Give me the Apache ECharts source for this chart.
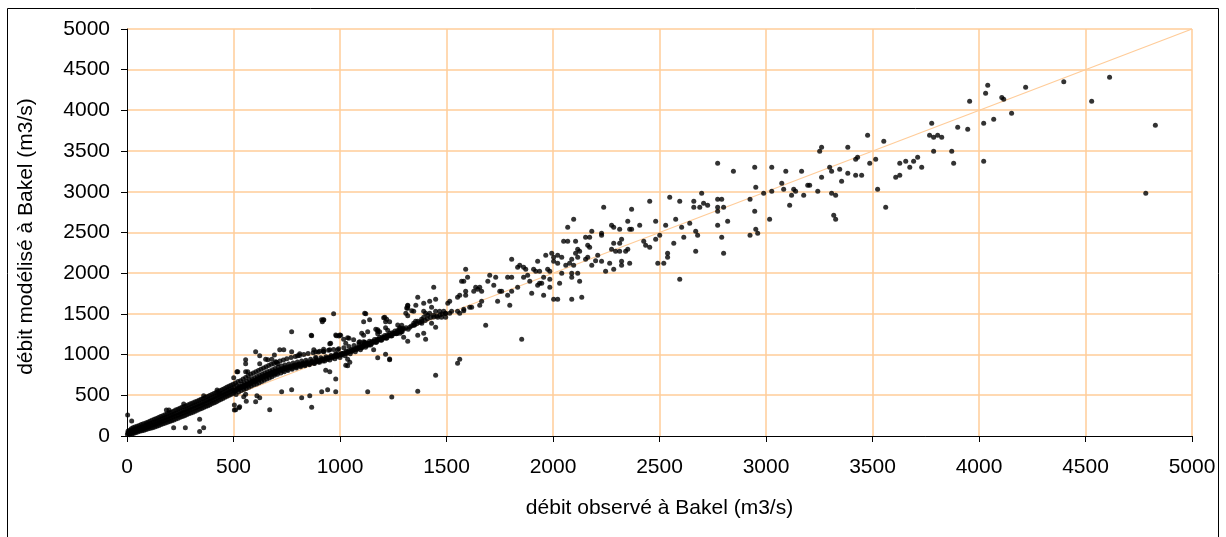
<!DOCTYPE html>
<html>
<head>
<meta charset="utf-8">
<script src="https://cdn.jsdelivr.net/npm/echarts@6/dist/echarts.min.js"></script>
<style>
html,body{margin:0;padding:0;background:#fff;}
#chart{width:1226px;height:537px;}
</style>
</head>
<body>
<div id="chart"></div>
<script>
var xTitle = 'débit observé à Bakel (m3/s)';
var yTitle = 'débit modélisé à Bakel (m3/s)';
var axisMin = 0, axisMax = 5000, axisStep = 500;
var tickValues = [0, 500, 1000, 1500, 2000, 2500, 3000, 3500, 4000, 4500, 5000];

// 1:1 reference line
var identityLine = [[0, 0], [5000, 5000]];

// dense band, low flows
var bandLow = [
[2,18],[4,40],[5,62],[8,28],[10,50],[12,15],[14,72],[15,35],[18,55],[20,88],[22,25],[24,64],[26,45],[28,100],[30,30],[32,78],[35,55],[37,110],[40,40],[42,85],[45,65],[47,120],[50,48],[52,95],[55,72],[57,130],[60,58],[62,105],[65,82],[67,140],[70,66],[72,112],[75,90],[77,150],[80,72],[83,125],[85,98],[88,160],[90,80],[92,135],[95,108],[97,170],[100,88],[102,145],[105,118],
[107,182],[110,95],[112,155],[115,128],[117,192],[120,102],[123,165],[125,138],[128,205],[130,112],[133,175],[135,148],[138,215],[140,120],[143,185],[145,158],[148,228],[150,130],[153,195],[155,168],[158,240],[160,140],[163,205],[165,178],[168,250],[170,150],[173,218],[175,190],[178,262],[180,160],[183,228],[185,200],[188,272],[190,168],[193,238],[195,210],[198,285],[200,178],[203,248],[205,222],[208,295],[210,188],[213,258],[215,232],[218,305],[220,198],[223,270],[225,242],[228,318],[230,208],[233,280],[235,252],[238,328],[240,218],[243,290],[245,262],[248,340],[250,230],
[253,300],[255,272],[258,352],[260,240],[263,312],[265,285],[268,362],[270,250],[273,322],[275,295],[278,372],[280,262],[283,335],[285,305],[288,385],[290,272],[293,345],[295,318],[298,395],[300,282],[303,355],[305,328],[308,405],[310,292],[313,368],[315,340],[318,418],[320,305],[323,378],[325,350],[328,428],[330,315],[333,390],[335,362],[338,440],[340,328],[343,400],[345,372],[348,452],[350,338],[353,412],[355,385],[358,462],[360,350],[363,425],[365,395],[368,475],[370,362],[373,435],[375,408],[378,486],[380,372],[383,448],[385,420],[388,498],[390,385],[393,460],[395,432],[398,510],[400,398],[403,472],[405,445],[408,522],[410,410],[413,485],[415,458],[418,535],[420,422],[423,498],[425,470],[428,548],[430,435],[433,510],[435,482],[438,560],[440,448],[443,522],[445,495],[448,572],[450,462],[453,535],[455,508],[458,585],[460,475],[463,548],[465,520],[468,598],[470,488],[473,560],[475,532],[478,610],[480,500],[483,572],[485,545],[488,622],[490,512],[493,585],[495,558],[498,635],[500,525]
];

// dense band, medium flows (edges)
var bandMid = [
[503,598],[506,560],[509,650],[512,510],[515,620],[518,580],[521,670],[524,540],[527,610],[530,590],[533,680],[536,560],[539,640],[542,605],[545,700],[548,570],[551,655],[554,620],[557,720],[560,585],[563,670],[566,635],[569,740],[572,600],[575,690],[578,650],[581,760],[584,615],[587,700],[590,668],[593,775],[596,630],[599,715],[602,680],[605,790],[608,640],[611,730],[614,700],[617,805],[620,655],[623,745],[626,712],[629,820],[632,670],[635,760],[638,728],[641,835],[644,685],[647,775],[650,742],[653,850],[656,700],[659,790],[662,758],[665,865],[668,712],[671,800],[674,772],[677,880],[680,728],[683,815],[686,785],[689,890],[692,745],[695,828],[698,800],
[702,905],[706,760],[710,845],[714,815],[718,920],[722,775],[726,860],[730,828],[734,935],[738,790],[742,872],[746,845],[750,950],[755,805],[760,885],[765,858],[770,965],[775,820],[780,898],[785,872],[790,978],[795,835],[800,910],[805,885],[810,990],[815,850],[820,922],[825,898],[830,1002],[835,862],[840,932],[845,908],[850,1012],[856,875],[862,942],[868,920],[874,1022],[880,890],[886,952],[892,932],[898,1032],[904,905],[910,962],[916,945],[922,1042],[928,920],[934,975],[940,958],[946,1052],[952,935],[958,988],[964,972],[970,1062],[976,950],[982,1000],[988,985],[994,1072],[1000,965],
[1006,1015],[1012,1000],[1018,1085],[1024,985],[1030,1040],[1036,1025],[1042,1098],[1048,1010],[1054,1062],[1060,1050],[1066,1112],[1072,1035],[1078,1085],[1084,1075],[1090,1128],[1096,1060],[1102,1108],[1108,1100],[1114,1145],[1120,1090],[1126,1135],[1132,1128],[1138,1165],[1144,1118],[1150,1160],[1156,1155],[1162,1185],[1168,1148],[1174,1188],[1180,1182],[1186,1210],[1192,1175],[1198,1215],[1204,1208],[1210,1235],[1216,1200],[1222,1240],[1228,1235],[1234,1262],[1240,1228],[1246,1268],[1252,1262],[1258,1290],[1264,1255],[1270,1295],[1276,1288],[1282,1318],[1288,1280],[1294,1322],[1300,1315],
[1310,1330],[1320,1310],[1335,1352],[1350,1365],[1360,1380],[1375,1395],[1385,1410],[1400,1420],[1410,1440],[1425,1455],[1440,1462],[1455,1475],[1470,1490],[1480,1500],[1495,1505]
];

// dense band, medium flows (core)
var bandCore = [
[505,548],[511,560],[516,570],[522,578],[528,590],[533,598],[539,605],[545,612],[550,598],[556,622],[561,632],[567,620],[573,645],[579,655],[584,645],[590,668],[596,678],[602,665],[607,690],[613,700],[619,688],[625,712],[631,722],[637,708],[643,735],[649,742],[655,730],[661,752],[667,760],[673,748],[679,772],[685,780],[691,768],[697,792],[703,798],[710,785],[717,808],[724,815],[731,802],[738,825],[745,830],[752,818],[759,840],[766,845],[773,832],[780,856],[787,862],[794,848],[801,870],[808,874],[815,862],[822,880],[829,886],[836,872],[843,892],[850,897],[857,885],[864,903],[871,908],[878,895],[885,915],[892,920],[899,908],[906,930],[913,935],[920,922],[927,945],[934,952],[941,940],[948,962],[955,970],[962,958],[969,980],[976,986],[983,974],[990,996],[997,1002],[1004,992],[1012,1012],[1020,1022],[1028,1012],[1036,1035],[1044,1045],[1052,1035],[1060,1058],[1068,1068],[1076,1060],[1084,1082],[1092,1092],[1100,1085],[1108,1110],[1116,1120],[1124,1110],[1132,1135],[1140,1142],[1148,1132],[1156,1155],[1164,1162],[1172,1155],[1180,1178],[1188,1188],[1196,1180],[1204,1205],[1212,1215],[1220,1205],[1228,1230],[1236,1240],[1244,1232],[1252,1255],[1260,1266],[1268,1258],[1276,1282],[1284,1292],[1292,1285]
];

// scattered points below 1000 m3/s
var scatterLow = [
[3,258],[22,184],[274,102],[341,55],[360,102],[341,205],[219,102],[504,319],[504,381],[526,348],[266,393],[185,319],[197,319],[423,565],[432,524],[360,495],
[970,1502],[917,1404],[922,1425],[773,1281],[867,1232],[983,1232],[952,1134],[717,1060],[736,1060],[604,1036],[773,1036],[557,937],[557,888],[623,986],[623,888],[661,937],[698,913],[708,888],[811,1011],[801,986],[877,1060],[886,1036],[924,1036],[952,1060],[989,1060],[980,1011],[520,790],[501,716],[557,790],[726,544],[773,569],[820,470],[858,495],[914,544],[942,569],[980,544],[623,470],[914,1429],[924,1429],[980,1241],[999,1241],[980,700],[933,807],[952,790],[995,1228],[867,353],[670,323],[610,495],[604,421],[529,360],[510,323],[548,483],[557,512],[560,426],[567,790],[516,790],[692,995],[698,770],[886,967],[865,1237],[956,1139],[651,942],[680,942],[905,1040],[923,1065],[1003,1237]
];

// scattered points 1000 - 2000 m3/s
var scatterMid = [
[1121,1502],[1111,1404],[1139,1429],[1205,1453],[1214,1404],[1233,1404],[1318,1601],[1318,1568],[1318,1478],[1271,1364],[1280,1330],[1290,1306],[1177,1306],[1186,1281],[1177,1257],[1214,1330],[1224,1298],[1130,1281],[1036,1208],[1064,1183],[1093,1158],[1111,1158],[1102,1085],[1158,1060],[1177,962],[1214,1003],[1233,937],[1130,544],[1243,479],[1036,864],[1046,905],[1042,1200],[1089,1151],[1117,1151],[1136,1118],[1233,946],[1210,1458],[1219,1434],[1116,1507],[1036,942],[1027,868],[1017,1188],[1027,1139],[1102,1262],[1111,1237],[1168,1311],[1177,1286],[1337,1540],[1355,1409],[1384,1384],[1346,1360],[1313,1572],
[1853,1188],[1684,1360],[1552,893],[1562,942],[1449,745],[1365,549],[1590,2048],[1599,1950],[1571,1900],[1581,1900],[1637,1827],[1647,1802],[1656,1827],[1665,1778],[1628,1778],[1590,1778],[1590,1729],[1562,1729],[1552,1704],[1515,1655],[1506,1630],[1665,1655],[1656,1606],[1618,1581],[1609,1581],[1581,1557],[1552,1532],[1562,1508],[1524,1532],[1515,1508],[1440,1827],[1365,1704],[1356,1606],[1393,1630],[1421,1655],[1449,1680],[1393,1532],[1402,1508],[1430,1581],[1449,1532],[1468,1532],[1487,1532],[1496,1508],[1318,1606],[1309,1508],[1346,1532],[1290,1360],[1282,1262],[1327,1335],[1346,1384],[1365,1409],[1383,1434],[1393,1458],[1412,1483],[1421,1508],[1440,1483],[1459,1458],[1477,1458],[1496,1458],[1430,1384],[1449,1335],[1393,1262],[1402,1188],[1365,1237],[1318,1163],[1299,1212],[1581,1540],
[1806,2171],[1834,2072],[1844,2097],[1862,2072],[1872,2048],[1909,2048],[1900,1753],[1891,1900],[1881,1974],[1862,1950],[1834,1827],[1806,1778],[1787,1729],[1797,1606],[1740,1655],[1750,1778],[1759,1778],[1722,1851],[1694,1900],[1703,1974],[1731,1950],[1787,1950],[1806,1950],
[1928,2146],[1919,2023],[1937,2023],[1937,1876],[1928,1851],[1947,1876],[1956,1950],[1966,2220],[1975,2048],[1985,2023],[1985,1925],[1985,1827],[1994,2244],[1956,1729]
];

// scattered points above 2000 m3/s
var scatterHigh = [
[2003,1680],[2022,1680],[2031,1876],[2022,2220],[2003,2195],[2041,2195],[2003,2146],[2022,2122],[2069,2564],[2097,2662],[2050,2392],[2069,2392],[2060,2097],[2041,1999],[2088,1999],[2088,1950],[2116,1999],[2125,1900],[2135,1704],[2088,1680],
[2106,2392],[2116,2293],[2106,2244],[2116,2195],[2088,2171],[2078,2122],[2097,2097],[2153,2171],[2163,2195],[2182,2097],[2200,2154],[2125,2269],[2163,2343],[2172,2318],
[2210,2220],[2228,2146],[2266,2122],[2247,2023],[2285,2048],[2322,2146],[2322,2097],[2360,2122],[2322,2417],[2313,2367],[2285,2367],[2275,2293],[2294,2269],[2313,2269],[2351,2293],[2341,2269],
[2238,2810],[2228,2490],[2228,2466],[2182,2515],[2172,2441],[2153,2441],[2275,2589],[2285,2564],[2313,2539],[2407,2589],[2369,2785],[2351,2638],[2360,2539],[2369,2539],
[2454,2883],[2576,2662],[2567,2367],[2529,2589],[2501,2466],[2482,2638],[2482,2417],[2454,2318],[2435,2343],[2426,2392],[2538,2244],[2538,2195],[2492,2122],[2520,2122],[2595,1925],
[2698,2982],[2661,2883],[2661,2810],[2689,2810],[2707,2859],[2726,2834],[2773,2908],[2792,2908],[2773,2810],[2773,2760],[2801,2810],[2820,2638],[2773,2589],[2792,2441],[2801,2244],[2670,2515],[2679,2466],[2670,2269],[2642,2613],[2614,2441],[2604,2564],[2595,2883],[2548,2932],[2773,3350],[2847,3252],
[2925,2908],[2925,2466],[2947,3301],[2952,3055],[2947,2760],[2952,2539],[2961,2490],[2989,2982],[3027,3301],[3027,3006],[3017,2662],[3074,3105],[3083,3031],[3093,3252],[3111,2834],[3120,2957],[3130,3031],[3139,3006],[3167,3252],[3177,2957],[3196,3080],[3205,3080],[3243,3006],
[3261,3547],[3252,3498],[3261,3178],[3308,2982],[3327,2957],[3318,2711],[3327,2662],[3308,3252],[3299,3301],[3346,3276],[3355,3129],[3384,3227],[3384,3547],[3421,3399],[3430,3424],[3421,3203],[3449,3203],[3477,3694],[3515,3399],[3487,3350],[3524,3031],[3562,2810],[3553,3620],
[3609,3178],[3628,3203],[3628,3350],[3656,3375],[3675,3301],[3693,3375],[3712,3424],[3731,3301],[3768,3694],[3787,3670],[3806,3694],[3825,3670],[3778,3842],[3787,3498],[3872,3498],[3881,3350],[3900,3792],[3947,3768],[3956,4112],
[4022,3842],[4022,3375],[4069,3891],[4153,3964],[4031,4210],[4041,4308],[4107,4160],[4116,4137],[4219,4283],[4398,4353],[4529,4112],[4613,4407],[4828,3817],[4783,2982]
];

var allPoints = bandLow.concat(bandMid, bandCore, scatterLow, scatterMid, scatterHigh);

var FONT = '"Liberation Sans", Arial, sans-serif';
var GRID = '#FFCC99';
function plain(v) { return String(v); }

var chart = echarts.init(document.getElementById('chart'), null, {renderer: 'canvas'});
chart.setOption({
  backgroundColor: '#ffffff',
  animation: false,
  textStyle: {fontFamily: FONT},
  grid: {left: 127, right: 34, top: 29, bottom: 101, containLabel: false},
  xAxis: {
    type: 'value', min: axisMin, max: axisMax, interval: axisStep,
    name: xTitle, nameLocation: 'middle', nameGap: 62,
    nameTextStyle: {fontSize: 21, color: '#000', fontFamily: FONT},
    axisLine: {show: true, onZero: false, lineStyle: {color: '#000', width: 1}},
    axisTick: {show: true, inside: false, length: 6, lineStyle: {color: '#000'}},
    axisLabel: {fontSize: 21, color: '#000', margin: 21, fontFamily: FONT, formatter: plain},
    splitLine: {show: false}
  },
  yAxis: {
    type: 'value', min: axisMin, max: axisMax, interval: axisStep,
    name: yTitle, nameLocation: 'middle', nameGap: 90,
    nameTextStyle: {fontSize: 21, color: '#000', fontFamily: FONT, padding: [0, 0, 0, -8]},
    axisLine: {show: true, onZero: false, lineStyle: {color: '#000', width: 1}},
    axisTick: {show: true, inside: false, length: 6, lineStyle: {color: '#000'}},
    axisLabel: {fontSize: 21, color: '#000', margin: 17, fontFamily: FONT, formatter: plain},
    splitLine: {show: false}
  },
  series: [{
    type: 'line', data: identityLine, showSymbol: false, symbol: 'none',
    lineStyle: {color: GRID, width: 1.2}, z: 1, silent: true
  }, {
    type: 'scatter', data: allPoints, symbol: 'circle', symbolSize: 5,
    itemStyle: {color: '#000000'}, z: 2, silent: true
  }]
});

// grid lines placed through the chart's own axis scales
var lo = chart.convertToPixel({gridIndex: 0}, [axisMin, axisMin]);
var hi = chart.convertToPixel({gridIndex: 0}, [axisMax, axisMax]);
var graphics = [{
  type: 'rect', silent: true, z: -10,
  shape: {x: 7.5, y: 8.5, width: 1211, height: 540},
  style: {fill: 'none', stroke: '#000000', lineWidth: 1}
}];
tickValues.forEach(function (v) {
  if (v === axisMin) return;
  var p = chart.convertToPixel({gridIndex: 0}, [v, v]);
  var px = Math.round(p[0]);
  var py = Math.round(p[1]);
  graphics.push({type: 'line', silent: true, z: -5,
    shape: {x1: px, y1: lo[1], x2: px, y2: hi[1]},
    style: {stroke: GRID, lineWidth: 1.5}});
  graphics.push({type: 'line', silent: true, z: -5,
    shape: {x1: lo[0], y1: py, x2: hi[0], y2: py},
    style: {stroke: GRID, lineWidth: 1.5}});
});
chart.setOption({graphic: graphics});
</script>
</body>
</html>
